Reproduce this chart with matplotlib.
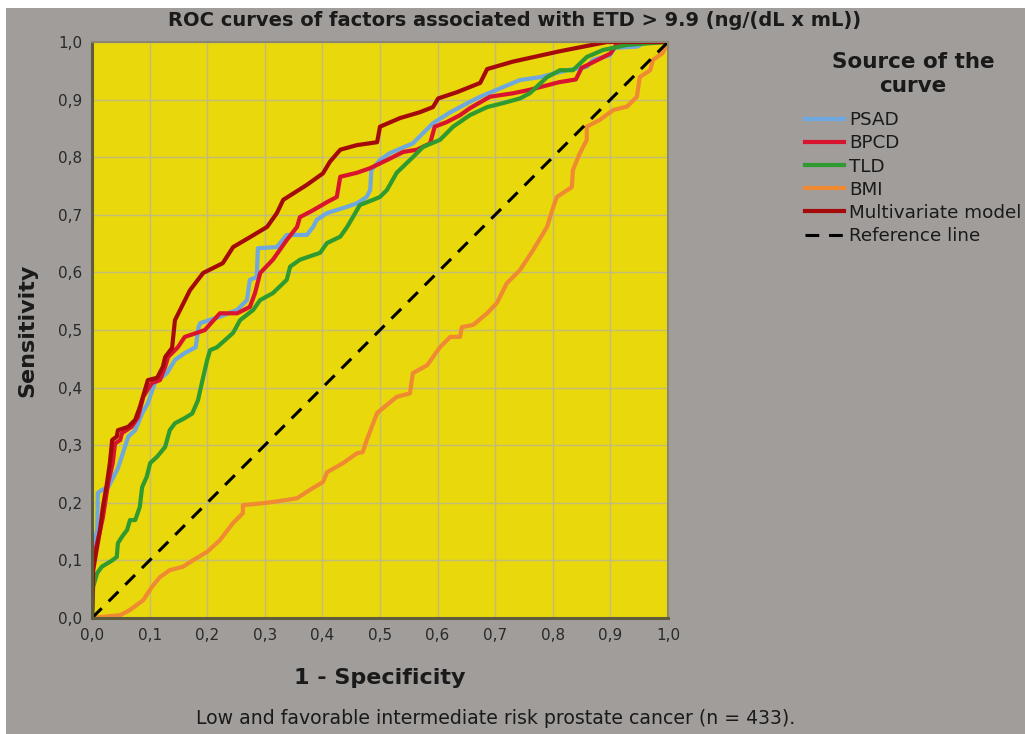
import matplotlib
matplotlib.use("Agg")
import matplotlib.pyplot as plt
from matplotlib.patches import Rectangle

psad_x = [0, 0.002, 0.009, 0.01, 0.017, 0.028, 0.045, 0.063, 0.075, 0.087, 0.097, 0.109, 0.130, 0.144,
          0.161, 0.180, 0.185, 0.188, 0.222, 0.252, 0.269, 0.274, 0.286, 0.288, 0.321, 0.338, 0.373,
          0.384, 0.39, 0.408, 0.443, 0.46, 0.477, 0.483, 0.485, 0.5, 0.517, 0.557, 0.569, 0.592, 0.622,
          0.656, 0.674, 0.743, 0.778, 0.825, 0.859, 0.87, 0.899, 0.908, 0.946, 0.963, 1.0]
psad_y = [0, 0.123, 0.153, 0.217, 0.222, 0.227, 0.26, 0.315, 0.326, 0.355, 0.373, 0.408, 0.425, 0.448,
          0.46, 0.47, 0.505, 0.512, 0.523, 0.535, 0.552, 0.587, 0.592, 0.642, 0.644, 0.665, 0.665,
          0.679, 0.691, 0.703, 0.714, 0.72, 0.731, 0.743, 0.778, 0.795, 0.807, 0.824, 0.836, 0.859, 0.878,
          0.896, 0.905, 0.934, 0.939, 0.951, 0.957, 0.969, 0.977, 0.99, 0.992, 1.0, 1.0]

bpcd_x = [0, 0.002, 0.009, 0.019, 0.028, 0.036, 0.04, 0.049, 0.052, 0.069, 0.080, 0.089, 0.104, 0.118,
          0.127, 0.132, 0.149, 0.161, 0.179, 0.196, 0.222, 0.252, 0.274, 0.283, 0.292, 0.314, 0.338,
          0.356, 0.361, 0.384, 0.408, 0.425, 0.431, 0.46, 0.483, 0.512, 0.540, 0.564, 0.587, 0.595,
          0.616, 0.639, 0.656, 0.691, 0.731, 0.76, 0.81, 0.84, 0.85, 0.88, 0.9, 0.91, 0.95, 1.0]
bpcd_y = [0, 0.10, 0.13, 0.175, 0.234, 0.269, 0.303, 0.309, 0.321, 0.332, 0.349, 0.384, 0.408, 0.413,
          0.436, 0.453, 0.47, 0.488, 0.494, 0.5, 0.529, 0.529, 0.54, 0.564, 0.599, 0.622, 0.656,
          0.679, 0.696, 0.708, 0.722, 0.731, 0.766, 0.773, 0.781, 0.795, 0.809, 0.813, 0.824, 0.853,
          0.861, 0.873, 0.885, 0.905, 0.911, 0.917, 0.93, 0.935, 0.955, 0.97, 0.98, 0.995, 1.0, 1.0]

tld_x = [0, 0.002, 0.009, 0.017, 0.035, 0.043, 0.045, 0.052, 0.061, 0.066, 0.075, 0.083, 0.087, 0.095,
         0.101, 0.113, 0.127, 0.135, 0.144, 0.161, 0.174, 0.184, 0.193, 0.2, 0.205, 0.217, 0.245, 0.257,
         0.280, 0.292, 0.314, 0.338, 0.344, 0.361, 0.396, 0.408, 0.431, 0.443, 0.453, 0.465, 0.488, 0.5,
         0.512, 0.529, 0.557, 0.575, 0.604, 0.627, 0.656, 0.686, 0.714, 0.743, 0.76, 0.79, 0.8125,
         0.835, 0.859, 0.887, 0.929, 0.97, 1.0]
tld_y = [0, 0.054, 0.078, 0.089, 0.10, 0.106, 0.130, 0.141, 0.153, 0.170, 0.17, 0.193, 0.227, 0.245,
         0.269, 0.280, 0.297, 0.326, 0.338, 0.347, 0.355, 0.378, 0.418, 0.448, 0.465, 0.47, 0.495, 0.517,
         0.535, 0.552, 0.564, 0.587, 0.610, 0.622, 0.634, 0.651, 0.662, 0.679, 0.696, 0.717, 0.726, 0.731,
         0.743, 0.773, 0.80, 0.818, 0.83, 0.853, 0.873, 0.887, 0.894, 0.902, 0.911, 0.939, 0.951,
         0.951, 0.974, 0.986, 0.995, 0.998, 1.0]

bmi_x = [0, 0.049, 0.066, 0.089, 0.104, 0.118, 0.135, 0.158, 0.175, 0.2, 0.222, 0.245, 0.262, 0.262,
         0.304, 0.338, 0.356, 0.384, 0.401, 0.408, 0.436, 0.46, 0.470, 0.477, 0.495, 0.529, 0.552, 0.557,
         0.582, 0.604, 0.622, 0.639, 0.642, 0.662, 0.686, 0.703, 0.72, 0.743, 0.766, 0.79, 0.801, 0.807,
         0.833, 0.835, 0.847, 0.859, 0.859, 0.882, 0.905, 0.929, 0.946, 0.951, 0.969, 0.974, 0.991, 1.0]
bmi_y = [0, 0.005, 0.014, 0.031, 0.054, 0.071, 0.083, 0.089, 0.10, 0.115, 0.135, 0.165, 0.182, 0.196,
         0.2, 0.205, 0.208, 0.226, 0.236, 0.253, 0.269, 0.286, 0.288, 0.309, 0.356, 0.384, 0.39, 0.425,
         0.439, 0.47, 0.488, 0.488, 0.505, 0.509, 0.529, 0.547, 0.581, 0.604, 0.639, 0.679, 0.714, 0.731,
         0.748, 0.778, 0.807, 0.83, 0.853, 0.865, 0.882, 0.888, 0.905, 0.939, 0.951, 0.969, 0.981, 1.0]

multi_x = [0, 0.002, 0.01, 0.014, 0.019, 0.026, 0.031, 0.035, 0.043, 0.045, 0.063, 0.075, 0.083, 0.092,
           0.097, 0.113, 0.123, 0.127, 0.139, 0.144, 0.170, 0.193, 0.227, 0.245, 0.274, 0.304, 0.321,
           0.332, 0.373, 0.401, 0.413, 0.431, 0.460, 0.495, 0.5, 0.535, 0.569, 0.592, 0.601, 0.634,
           0.674, 0.686, 0.731, 0.8125, 0.894, 1.0]
multi_y = [0, 0.083, 0.13, 0.153, 0.193, 0.234, 0.269, 0.309, 0.315, 0.326, 0.332, 0.344, 0.366, 0.396,
           0.413, 0.417, 0.436, 0.453, 0.469, 0.517, 0.569, 0.599, 0.616, 0.644, 0.661, 0.679, 0.703,
           0.726, 0.752, 0.772, 0.792, 0.813, 0.821, 0.826, 0.853, 0.868, 0.878, 0.887, 0.902, 0.913,
           0.929, 0.953, 0.966, 0.984, 1.0, 1.0]

ticks = [0, 0.1, 0.2, 0.3, 0.4, 0.5, 0.6, 0.7, 0.8, 0.9, 1.0]
tick_labels = ["0,0", "0,1", "0,2", "0,3", "0,4", "0,5", "0,6", "0,7", "0,8", "0,9", "1,0"]

bg = "#a19d9b"
fig = plt.figure(figsize=(10.25, 7.34), dpi=100, facecolor=bg)
# thin white strips on the left and top edges
fig.patches.append(Rectangle((0, 0), 6 / 1025, 1, transform=fig.transFigure,
                             facecolor="white", edgecolor="none"))
fig.patches.append(Rectangle((0, 1 - 8 / 734), 1, 8 / 734, transform=fig.transFigure,
                             facecolor="white", edgecolor="none"))

ax = fig.add_axes([92 / 1025, 116 / 734, 576 / 1025, 576 / 734])
ax.set_facecolor("#e8d80c")

lw = 3.0
ax.plot(psad_x, psad_y, color="#6ea8de", lw=lw, label="PSAD")
ax.plot(bpcd_x, bpcd_y, color="#d9142e", lw=lw, label="BPCD")
ax.plot(tld_x, tld_y, color="#2f9a2f", lw=lw, label="TLD")
ax.plot(bmi_x, bmi_y, color="#f08a32", lw=lw, label="BMI")
ax.plot(multi_x, multi_y, color="#a50a0a", lw=lw, label="Multivariate model")
ax.plot([0, 1], [0, 1], color="black", lw=2.2, ls=(0, (4.5, 3.2)), label="Reference line")

ax.set_xlim(0, 1)
ax.set_ylim(0, 1)
ax.set_xticks(ticks)
ax.set_yticks(ticks)
ax.set_xticklabels(tick_labels)
ax.set_yticklabels(tick_labels)
ax.tick_params(length=0, labelsize=11, labelcolor="#2a2a2a", pad=7)
ax.grid(True, color="#c4bb78", lw=1.0)
ax.set_axisbelow(True)
for side in ["left", "bottom"]:
    ax.spines[side].set_color("#5e5c3c")
    ax.spines[side].set_linewidth(2.2)
for side in ["top", "right"]:
    ax.spines[side].set_color("#8a8672")
    ax.spines[side].set_linewidth(1.5)

ax.set_xlabel("1 - Specificity", fontsize=16, fontweight="bold", color="#1a1a1a")
ax.set_ylabel("Sensitivity", fontsize=16, fontweight="bold", color="#1a1a1a")
ax.xaxis.set_label_coords(0.5, (618 - 668) / 576)
ax.yaxis.set_label_coords((37 - 92) / 576, 0.5)

fig.text(0.502, 1 - 20 / 734, "ROC curves of factors associated with ETD > 9.9 (ng/(dL x mL))",
         ha="center", va="center", fontsize=14, fontweight="bold", color="#1a1a1a")
fig.text(496 / 1025, 1 - 718 / 734, "Low and favorable intermediate risk prostate cancer (n = 433).",
         ha="center", va="center", fontsize=13.6, color="#1a1a1a")

leg = fig.legend(loc="upper left", bbox_to_anchor=(805 / 1025, 1 - 52 / 734), frameon=False,
                 title="Source of the\ncurve", fontsize=13.2, handlelength=2.1, handletextpad=0.3,
                 labelspacing=0.28, borderpad=0, borderaxespad=0)
plt.setp(leg.get_title(), fontsize=15.5, fontweight="bold", color="#1a1a1a", multialignment="center",
         linespacing=1.25)
leg._legend_box.sep = 11
for t in leg.get_texts():
    t.set_color("#1a1a1a")

fig.savefig("out.png", dpi=100, facecolor=fig.get_facecolor())
